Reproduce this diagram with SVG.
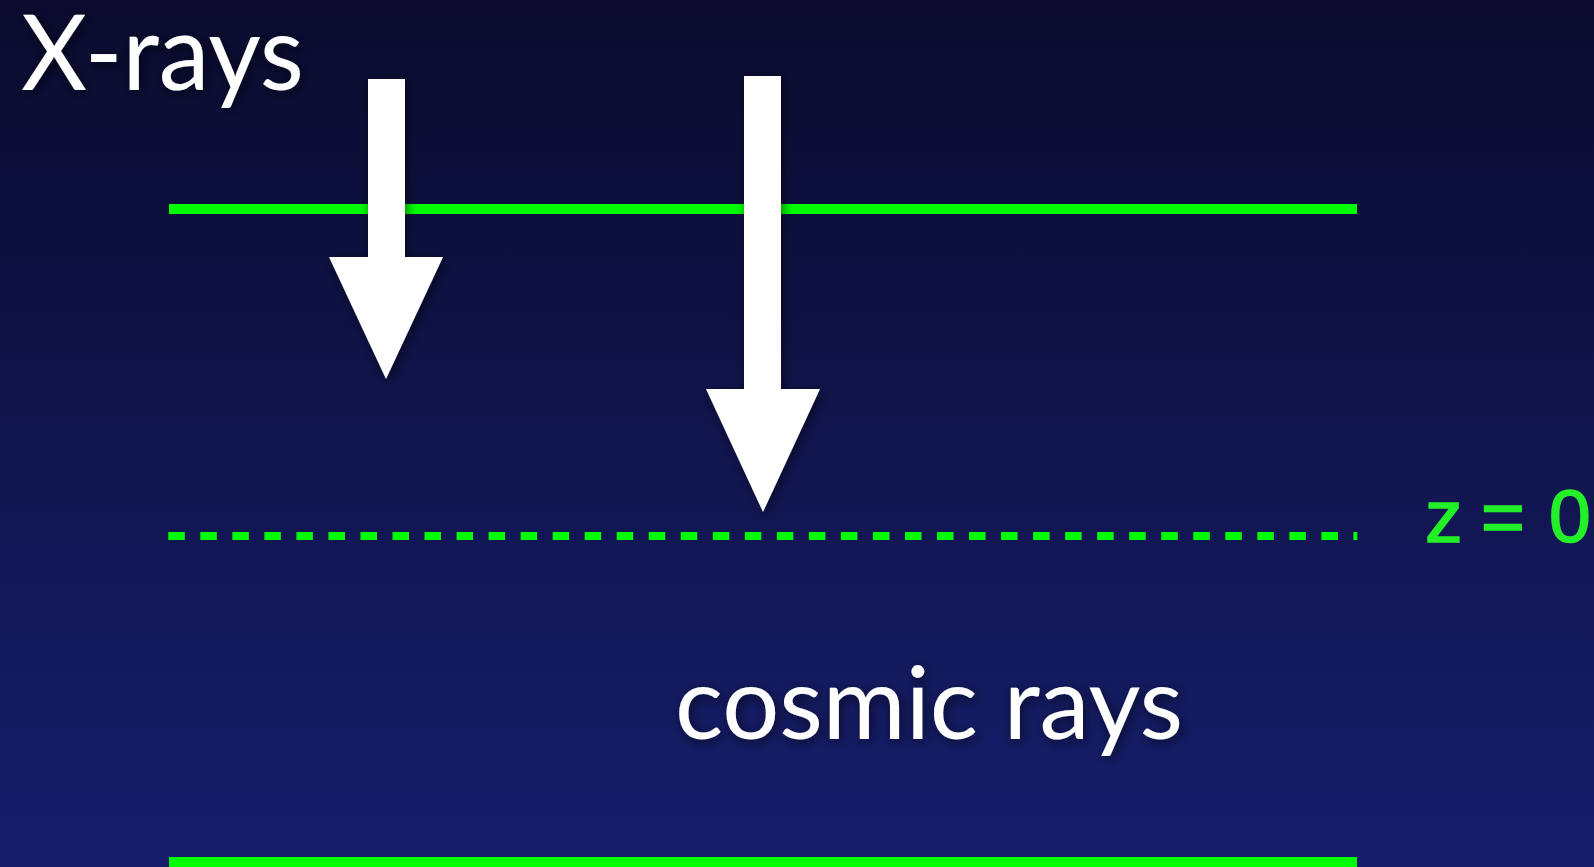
<svg xmlns="http://www.w3.org/2000/svg" width="1594" height="867" viewBox="0 0 1594 867">
  <defs>
    <linearGradient id="bg" x1="0" y1="0" x2="0" y2="1">
      <stop offset="0" stop-color="#0a0b2d"/>
      <stop offset="1" stop-color="#161e6c"/>
    </linearGradient>
    <filter id="shadow" x="-20%" y="-20%" width="140%" height="140%">
      <feDropShadow dx="2" dy="3" stdDeviation="6" flood-color="#000000" flood-opacity="0.55"/>
    </filter>
  </defs>
  <style>
    .green { stroke: #00ff00; fill: none; }
    .arrow { fill: #ffffff; filter: url(#shadow); }
    .label { fill: #ffffff; font-family: Lato, "Open Sans", "Liberation Sans", sans-serif; filter: url(#shadow); }
    .zlabel { fill: #24f02a; stroke: #24f02a; stroke-width: 1.6; font-family: "Liberation Sans", Arial, sans-serif; font-size: 75px; }
  </style>
  <rect x="0" y="0" width="1594" height="867" fill="url(#bg)"/>

  <g id="lines">
    <line id="top-line" class="green" x1="169" y1="209" x2="1357" y2="209" stroke-width="10"/>
    <line id="z0-line" class="green" x1="168.3" y1="536" x2="1357.3" y2="536" stroke-width="8" stroke-dasharray="16.5 15.53"/>
    <line id="bottom-line" class="green" x1="169" y1="862" x2="1357" y2="862" stroke-width="10"/>
  </g>

  <g id="connectors">
    <polygon id="arrow-xrays" class="arrow" points="368,79 405,79 405,257 443,257 386,379 329,257 368,257"/>
    <polygon id="arrow-cosmic" class="arrow" points="744,76 781,76 781,389 820,389 763,512 706,389 744,389"/>
  </g>

  <g id="label-xrays">
    <text class="label" x="21" y="90" font-size="104" textLength="283" lengthAdjust="spacingAndGlyphs">X-rays</text>
  </g>
  <g id="label-cosmic">
    <text class="label" x="675" y="739" font-size="101" textLength="508" lengthAdjust="spacingAndGlyphs">cosmic rays</text>
  </g>
  <g id="label-z0">
    <text class="zlabel" y="542"><tspan x="1425">z</tspan> <tspan x="1481">=</tspan> <tspan x="1549">0</tspan></text>
  </g>
</svg>
